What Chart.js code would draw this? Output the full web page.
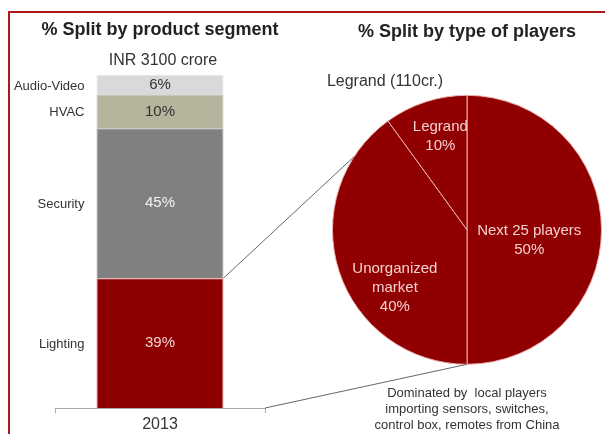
<!DOCTYPE html>
<html>
<head>
<meta charset="utf-8">
<script src="https://cdn.jsdelivr.net/npm/chart.js@4.4.1/dist/chart.umd.min.js"></script>
<style>
  body { margin: 0; background: #fff; }
  #wrap { position: relative; width: 605px; height: 434px; }
  #wrap canvas { position: absolute; top: 0; }
  #bar { left: 0; }
  #pie { left: 300px; }
  #overlay { left: 0; pointer-events: none; }
</style>
</head>
<body>
<div id="wrap">
  <canvas id="bar" width="300" height="434"></canvas>
  <canvas id="pie" width="305" height="434"></canvas>
  <canvas id="overlay" width="605" height="434"></canvas>
</div>
<script>
// data
const years = ['2013'];
const segments = ['Lighting', 'Security', 'HVAC', 'Audio-Video'];
const segmentShare = [39, 45, 10, 6];
const players = ['Next 25 players', 'Unorganized market', 'Legrand'];
const playerShare = [50, 40, 10];

const FONT = 'Liberation Sans, Arial, sans-serif';
Chart.defaults.font.family = FONT;
Chart.defaults.color = '#333';

const segColors = ['#8c0000', '#808080', '#b4b59c', '#d9d9d9'];
const segBorders = ['#d98080', '#a0a0a0', '#c8c8b8', '#e6e6e6'];
const segText = ['#f5d0d0', '#f2f2f2', '#333', '#333'];

const segLabels = {
  id: 'segLabels',
  afterDatasetsDraw(chart) {
    const { ctx, chartArea } = chart;
    ctx.save();
    ctx.textBaseline = 'middle';
    chart.data.datasets.forEach((ds, i) => {
      const el = chart.getDatasetMeta(i).data[0];
      const cy = (el.y + el.base) / 2;
      ctx.font = '15px ' + FONT;
      ctx.textAlign = 'center';
      ctx.fillStyle = segText[i];
      ctx.fillText(ds.data[0] + '%', el.x, cy);
      ctx.font = '13px ' + FONT;
      ctx.textAlign = 'right';
      ctx.fillStyle = '#333';
      ctx.fillText(ds.label, el.x - el.width / 2 - 12, cy + 1);
    });
    // titles
    const cx = (chartArea.left + chartArea.right) / 2;
    ctx.textAlign = 'center';
    ctx.fillStyle = '#222';
    ctx.font = 'bold 18px ' + FONT;
    ctx.fillText('% Split by product segment', cx, 30);
    ctx.fillStyle = '#333';
    ctx.font = '16px ' + FONT;
    ctx.fillText('INR 3100 crore', cx + 3, 61);
    ctx.restore();
  }
};

const barChart = new Chart(document.getElementById('bar'), {
  type: 'bar',
  data: {
    labels: years,
    datasets: segments.map((s, i) => ({
      label: s,
      data: [segmentShare[i]],
      backgroundColor: segColors[i],
      borderColor: segBorders[i],
      borderWidth: 1,
      categoryPercentage: 1,
      barPercentage: 0.605
    }))
  },
  options: {
    responsive: false,
    animation: false,
    layout: { padding: { left: 55, right: 35, top: 75, bottom: 0 } },
    plugins: {
      legend: { display: false },
      tooltip: { enabled: false }
    },
    scales: {
      x: {
        stacked: true,
        grid: { drawOnChartArea: false, tickLength: 5, color: '#aaa' },
        border: { color: '#aaa' },
        ticks: { font: { size: 16 }, color: '#333', padding: 2 },
        afterFit(scale) { scale.height = 26; }
      },
      y: { stacked: true, display: false, min: 0, max: 100 }
    }
  },
  plugins: [segLabels]
});

// label placement inside slices (fraction of radius, angle tweak in degrees)
const slicePlace = [{ r: 0.47, da: 10 }, { r: 0.69, da: -21 }, { r: 0.72, da: 2 }];
const sliceLines = [['Next 25 players'], ['Unorganized', 'market'], ['Legrand']];

const pieLabels = {
  id: 'pieLabels',
  afterDatasetsDraw(chart) {
    const { ctx } = chart;
    const meta = chart.getDatasetMeta(0);
    ctx.save();
    ctx.font = '15px ' + FONT;
    ctx.textAlign = 'center';
    ctx.textBaseline = 'middle';
    ctx.fillStyle = '#f5d0d0';
    meta.data.forEach((arc, i) => {
      const mid = (arc.startAngle + arc.endAngle) / 2 + slicePlace[i].da * Math.PI / 180;
      const r = arc.outerRadius * slicePlace[i].r;
      const x = arc.x + Math.cos(mid) * r;
      const y = arc.y + Math.sin(mid) * r;
      const lines = sliceLines[i].concat([playerShare[i] + '%']);
      const lh = 19;
      lines.forEach((t, k) => {
        ctx.fillText(t, x, y + (k - (lines.length - 1) / 2) * lh);
      });
    });
    ctx.fillStyle = '#333';
    ctx.font = '16px ' + FONT;
    ctx.fillText('Legrand (110cr.)', 85, 82);
    ctx.font = '13px ' + FONT;
    const note = ['Dominated by  local players', 'importing sensors, switches,', 'control box, remotes from China'];
    note.forEach((t, k) => ctx.fillText(t, meta.data[0].x, 393 + k * 16));
    ctx.restore();
  }
};

const pieChart = new Chart(document.getElementById('pie'), {
  type: 'pie',
  data: {
    labels: players,
    datasets: [{
      data: playerShare,
      backgroundColor: '#900000',
      borderColor: '#eab0b0',
      borderWidth: 1
    }]
  },
  options: {
    responsive: false,
    animation: false,
    layout: { padding: { left: 32, right: 3, top: 0, bottom: 69 } },
    plugins: {
      legend: { display: false },
      tooltip: { enabled: false },
      title: {
        display: true,
        text: '% Split by type of players',
        font: { size: 18, weight: 'bold' },
        color: '#222',
        padding: { top: 21, bottom: 52 }
      }
    }
  },
  plugins: [pieLabels]
});

// frame + connector lines
const oc = document.getElementById('overlay').getContext('2d');
oc.strokeStyle = '#b01818';
oc.lineWidth = 2;
oc.beginPath();
oc.moveTo(9, 434);
oc.lineTo(9, 12);
oc.lineTo(605, 12);
oc.stroke();

const lit = barChart.getDatasetMeta(0).data[0];
const arc = pieChart.getDatasetMeta(0).data[0];
const pcx = arc.x + 300, pcy = arc.y, pr = arc.outerRadius;
const a1 = 213 * Math.PI / 180;
oc.strokeStyle = '#666';
oc.lineWidth = 1;
oc.beginPath();
oc.moveTo(lit.x + lit.width / 2, lit.y);
oc.lineTo(pcx + Math.cos(a1) * pr, pcy + Math.sin(a1) * pr);
oc.moveTo(barChart.chartArea.right, barChart.chartArea.bottom);
oc.lineTo(pcx, pcy + pr);
oc.stroke();
</script>
</body>
</html>
